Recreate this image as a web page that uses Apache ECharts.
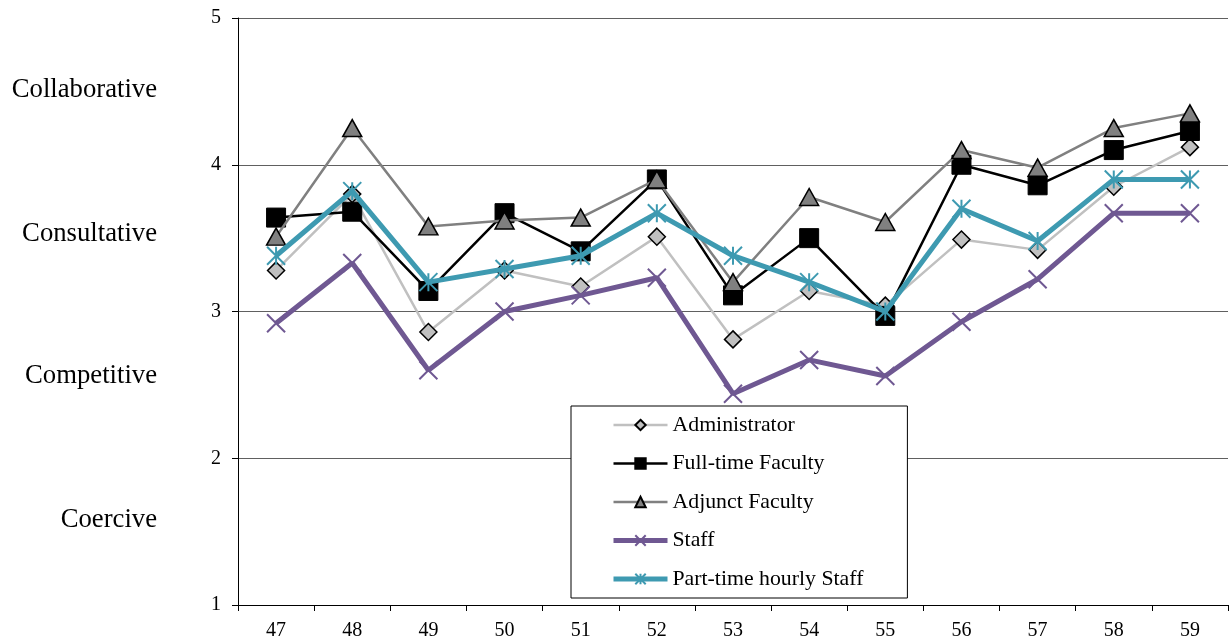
<!DOCTYPE html>
<html>
<head>
<meta charset="utf-8">
<script src="https://cdn.jsdelivr.net/npm/echarts@6/dist/echarts.min.js"></script>
<style>
  html, body { margin: 0; padding: 0; background: #fff; }
  #chart { width: 1229px; height: 642px; }
</style>
</head>
<body>
<div id="chart"></div>
<script>
// Item numbers along the horizontal axis
const items = ['47', '48', '49', '50', '51', '52', '53', '54', '55', '56', '57', '58', '59'];

// Mean ratings per group
const administrator = [3.28, 3.80, 2.86, 3.28, 3.17, 3.51, 2.81, 3.14, 3.04, 3.49, 3.42, 3.85, 4.12];
const fullTimeFaculty = [3.64, 3.68, 3.14, 3.67, 3.41, 3.90, 3.11, 3.50, 2.97, 4.00, 3.86, 4.10, 4.23];
const adjunctFaculty = [3.51, 4.25, 3.58, 3.62, 3.64, 3.90, 3.20, 3.78, 3.61, 4.10, 3.98, 4.25, 4.35];
const staff = [2.92, 3.33, 2.60, 3.00, 3.11, 3.23, 2.44, 2.67, 2.56, 2.93, 3.22, 3.67, 3.67];
const partTimeStaff = [3.38, 3.82, 3.20, 3.29, 3.38, 3.67, 3.38, 3.20, 3.00, 3.70, 3.48, 3.90, 3.90];

// Style band names and the rating level each name is set against
const bandValues = [1.58, 2.56, 3.53, 4.51];
const bandNames = ['Coercive', 'Competitive', 'Consultative', 'Collaborative'];

const serif = "'Liberation Serif', 'Times New Roman', serif";
const xPath = 'path://M0 0 L10 10 M10 0 L0 10';
const starPath = 'path://M0 0 L10 10 M10 0 L0 10 M5 0 L5 10';

const chart = echarts.init(document.getElementById('chart'), null, { renderer: 'canvas' });

chart.setOption({
  animation: false,
  backgroundColor: '#fff',
  grid: { left: 238, right: 1, top: 18, bottom: 37, containLabel: false },
  legend: {
    orient: 'vertical',
    left: 571,
    top: 406,
    backgroundColor: '#fff',
    borderColor: '#000',
    borderWidth: 1,
    borderRadius: 0,
    padding: [7, 44, 7, 40],
    itemWidth: 54,
    itemHeight: 13,
    itemGap: 14.5,
    textStyle: { fontFamily: serif, fontSize: 21.8, color: '#000', lineHeight: 24 },
    data: [
      { name: 'Administrator', lineStyle: { width: 2.5 } },
      { name: 'Full-time Faculty', lineStyle: { width: 2.5 } },
      { name: 'Adjunct Faculty', lineStyle: { width: 2.5 } },
      { name: 'Staff', lineStyle: { width: 5 } },
      { name: 'Part-time hourly Staff', lineStyle: { width: 5 } }
    ]
  },
  xAxis: {
    type: 'category',
    data: items,
    boundaryGap: true,
    axisLine: { lineStyle: { color: '#000', width: 1 } },
    axisTick: { show: true, alignWithLabel: false, length: 6, lineStyle: { color: '#000' } },
    axisLabel: { fontFamily: serif, fontSize: 20, color: '#000', margin: 16 },
    splitLine: { show: false }
  },
  yAxis: [
    {
      type: 'value',
      min: 1,
      max: 5,
      interval: 1,
      axisLine: { show: true, lineStyle: { color: '#000', width: 1 } },
      axisTick: { show: true, length: 6, lineStyle: { color: '#000' } },
      axisLabel: { fontFamily: serif, fontSize: 20, color: '#000', margin: 17 },
      splitLine: { show: true, lineStyle: { color: '#606060', width: 1 } }
    },
    {
      type: 'value',
      position: 'left',
      min: 1,
      max: 5,
      axisLine: { show: false },
      axisTick: { show: false },
      splitLine: { show: false },
      axisLabel: {
        customValues: bandValues,
        fontFamily: serif,
        fontSize: 26.7,
        color: '#000',
        margin: 81,
        formatter: function (v) {
          const i = bandValues.indexOf(v);
          return i >= 0 ? bandNames[i] : '';
        }
      }
    }
  ],
  series: [
    {
      name: 'Administrator',
      type: 'line',
      data: administrator,
      symbol: 'diamond',
      symbolSize: 17,
      showAllSymbol: true,
      lineStyle: { color: '#c0c0c0', width: 2.5 },
      itemStyle: { color: '#c0c0c0', borderColor: '#000', borderWidth: 1.5 },
      z: 2
    },
    {
      name: 'Full-time Faculty',
      type: 'line',
      data: fullTimeFaculty,
      symbol: 'rect',
      symbolSize: 19,
      showAllSymbol: true,
      lineStyle: { color: '#000', width: 2.5 },
      itemStyle: { color: '#000', borderColor: '#000', borderWidth: 1 },
      z: 3
    },
    {
      name: 'Adjunct Faculty',
      type: 'line',
      data: adjunctFaculty,
      symbol: 'triangle',
      symbolSize: [19, 17],
      showAllSymbol: true,
      lineStyle: { color: '#808080', width: 2.5 },
      itemStyle: { color: '#808080', borderColor: '#000', borderWidth: 1.5 },
      z: 4
    },
    {
      name: 'Staff',
      type: 'line',
      data: staff,
      symbol: xPath,
      symbolSize: 18,
      showAllSymbol: true,
      lineStyle: { color: '#6f5892', width: 5 },
      itemStyle: { color: '#6f5892', borderColor: '#6f5892', borderWidth: 2 },
      z: 5
    },
    {
      name: 'Part-time hourly Staff',
      type: 'line',
      data: partTimeStaff,
      symbol: starPath,
      symbolSize: 18,
      showAllSymbol: true,
      lineStyle: { color: '#3e9ab1', width: 5 },
      itemStyle: { color: '#3e9ab1', borderColor: '#3e9ab1', borderWidth: 2 },
      z: 6
    }
  ]
});
</script>
</body>
</html>
